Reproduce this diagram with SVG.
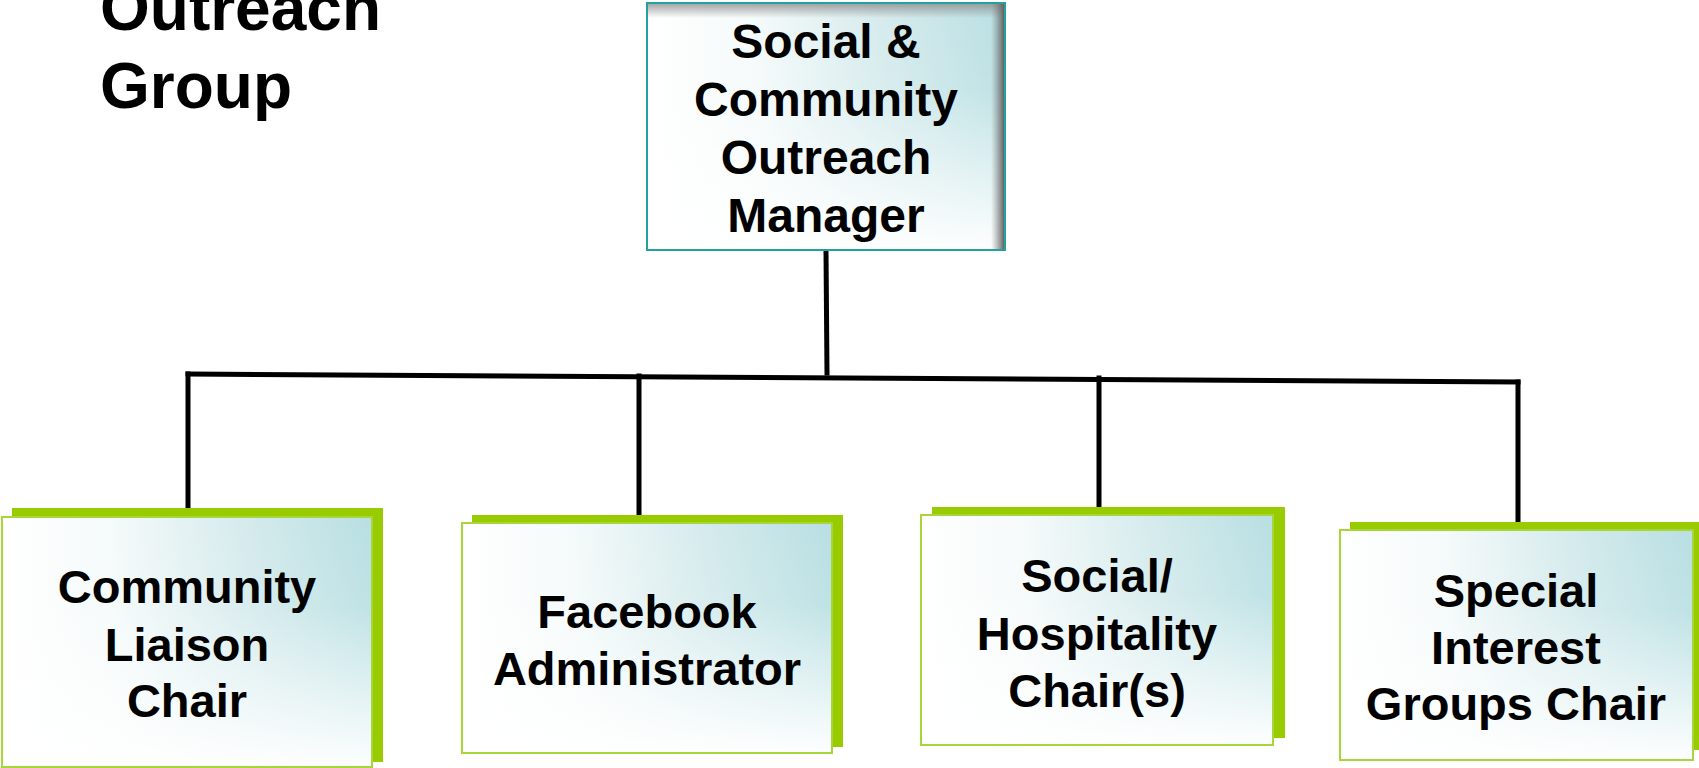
<svg xmlns="http://www.w3.org/2000/svg" width="1699" height="768" viewBox="0 0 1699 768">
  <style>
    .lbl { font-family: "Liberation Sans", Arial, sans-serif; font-weight: bold; font-size: 47px; fill: #000; text-anchor: middle; }
    .big { font-size: 48px; }
    .title { font-family: "Liberation Sans", Arial, sans-serif; font-weight: bold; font-size: 64px; fill: #000; }
    .shadow { fill: #99cc00; }
    .box { fill: url(#hgrad); stroke: #a6d63a; stroke-width: 2; }
    .fade { fill: url(#vfade); }
    .conn { stroke: #000; stroke-width: 5; fill: none; stroke-linecap: square; }
  </style>
  <defs>
    <linearGradient id="hgrad" x1="0" y1="0" x2="1" y2="0">
      <stop offset="0" stop-color="#ffffff"/>
      <stop offset="0.3" stop-color="#f5fafa"/>
      <stop offset="0.65" stop-color="#d6ebed"/>
      <stop offset="1" stop-color="#b8dfe2"/>
    </linearGradient>
    <linearGradient id="vfade" x1="0" y1="0" x2="0" y2="1">
      <stop offset="0" stop-color="#ffffff" stop-opacity="0"/>
      <stop offset="0.35" stop-color="#ffffff" stop-opacity="0.1"/>
      <stop offset="1" stop-color="#ffffff" stop-opacity="0.97"/>
    </linearGradient>
    <linearGradient id="rshade" x1="0" y1="0" x2="1" y2="0">
      <stop offset="0" stop-color="#808080" stop-opacity="0"/>
      <stop offset="1" stop-color="#5e5e5e" stop-opacity="0.95"/>
    </linearGradient>
    <linearGradient id="tshade" x1="0" y1="0" x2="0" y2="1">
      <stop offset="0" stop-color="#8a8a8a" stop-opacity="0.75"/>
      <stop offset="1" stop-color="#8a8a8a" stop-opacity="0"/>
    </linearGradient>
  </defs>

  <g id="title">
    <text class="title" x="100" y="30">Outreach</text>
    <text class="title" x="100" y="108">Group</text>
  </g>

  <g id="connectors">
    <line class="conn" x1="826" y1="251" x2="827" y2="373"/>
    <line class="conn" x1="188" y1="374" x2="1518" y2="382"/>
    <line class="conn" x1="188" y1="374" x2="188" y2="516"/>
    <line class="conn" x1="639" y1="376" x2="639" y2="522"/>
    <line class="conn" x1="1099" y1="378" x2="1099" y2="514"/>
    <line class="conn" x1="1518" y1="382" x2="1518" y2="528"/>
  </g>

  <g id="manager">
    <rect x="647" y="3" width="358" height="247" fill="url(#hgrad)"/>
    <rect x="647" y="3" width="358" height="247" class="fade"/>
    <rect x="648" y="4" width="356" height="14" fill="url(#tshade)"/>
    <rect x="991" y="4" width="13" height="245" fill="url(#rshade)"/>
    <rect x="647" y="3" width="358" height="247" fill="none" stroke="#23a0a0" stroke-width="2"/>
    <text class="lbl big" x="826" y="58">Social &amp;</text>
    <text class="lbl big" x="826" y="116">Community</text>
    <text class="lbl big" x="826" y="174">Outreach</text>
    <text class="lbl big" x="826" y="232">Manager</text>
  </g>

  <g id="liaison">
    <rect class="shadow" x="12" y="508" width="371" height="254"/>
    <rect class="box" x="2" y="517" width="370" height="250"/>
    <rect class="fade" x="3" y="518" width="368" height="248"/>
    <text class="lbl" x="187" y="603">Community</text>
    <text class="lbl" x="187" y="661">Liaison</text>
    <text class="lbl" x="187" y="717">Chair</text>
  </g>

  <g id="facebook">
    <rect class="shadow" x="472" y="515" width="371" height="232"/>
    <rect class="box" x="462" y="523" width="370" height="230"/>
    <rect class="fade" x="463" y="524" width="368" height="228"/>
    <text class="lbl" x="647" y="628">Facebook</text>
    <text class="lbl" x="647" y="685">Administrator</text>
  </g>

  <g id="hospitality">
    <rect class="shadow" x="932" y="507" width="353" height="231"/>
    <rect class="box" x="921" y="515" width="352" height="230"/>
    <rect class="fade" x="922" y="516" width="350" height="228"/>
    <text class="lbl" x="1097" y="592">Social/</text>
    <text class="lbl" x="1097" y="650">Hospitality</text>
    <text class="lbl" x="1097" y="707">Chair(s)</text>
  </g>

  <g id="special">
    <rect class="shadow" x="1350" y="522" width="360" height="228"/>
    <rect class="box" x="1340" y="530" width="353" height="230"/>
    <rect class="fade" x="1341" y="531" width="351" height="228"/>
    <text class="lbl" x="1516" y="607">Special</text>
    <text class="lbl" x="1516" y="664">Interest</text>
    <text class="lbl" x="1516" y="720">Groups Chair</text>
  </g>
</svg>
